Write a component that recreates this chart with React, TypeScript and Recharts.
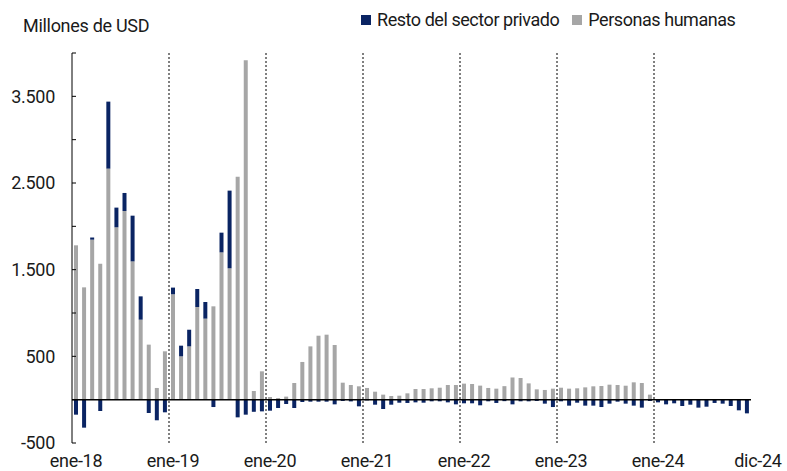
import { BarChart, Bar, XAxis, YAxis, ReferenceLine } from 'recharts';

// --- Data (Millones de USD, monthly ene-18 .. dic-24) ---
const monthNames = ['ene', 'feb', 'mar', 'abr', 'may', 'jun', 'jul', 'ago', 'sep', 'oct', 'nov', 'dic'];
const years = ['18', '19', '20', '21', '22', '23', '24'];

// Personas humanas (gray)
const personasHumanas = [
  1781, 1296, 1846, 1569, 2666, 1989, 2177, 1596, 923, 635, 135, 558,
  1216, 500, 615, 1069, 935, 1077, 1700, 1516, 2573, 3916, 100, 327,
  31, 19, 35, 192, 435, 615, 738, 750, 631, 196, 169, 154,
  135, 92, 58, 42, 46, 73, 123, 123, 131, 138, 169, 169,
  185, 181, 162, 135, 127, 156, 256, 250, 188, 119, 112, 127,
  138, 127, 131, 142, 154, 158, 173, 169, 161, 200, 192, 58,
  0, 0, 0, 0, 0, 0, 0, 0, 0, 0, 0, 0,
];

// Resto del sector privado (navy)
const restoSectorPrivado = [
  -173, -323, 25, -131, 773, 227, 208, 527, 269, -154, -238, -146,
  77, 123, 192, 208, 192, -85, 227, 896, -204, -173, -140, -135,
  -127, -96, -50, -96, -27, -23, -23, -23, -54, -15, -20, -77,
  -8, -58, -108, -58, -35, -38, -31, -35, -19, -19, -31, -54,
  -42, -42, -65, -19, -38, -17, -54, -19, -19, -15, -46, -85,
  -19, -69, -35, -69, -69, -85, -46, -23, -46, -69, -92, -15,
  -31, -54, -42, -73, -58, -92, -81, -38, -46, -73, -123, -158,
];

const xTickLabels = ['ene-18', 'ene-19', 'ene-20', 'ene-21', 'ene-22', 'ene-23', 'ene-24', 'dic-24'];
const yTicks = [-500, 0, 500, 1000, 1500, 2000, 2500, 3000, 3500, 4000];
const yLabelled = [-500, 500, 1500, 2500, 3500];
const yearStarts = ['ene-19', 'ene-20', 'ene-21', 'ene-22', 'ene-23', 'ene-24'];

const months = years.flatMap((y) => monthNames.map((m) => `${m}-${y}`));
const data = months.map((month, i) => ({
  month,
  personas: personasHumanas[i],
  resto: restoSectorPrivado[i],
}));

const NAVY = '#0a2463';
const GRAY = '#a6a6a6';
const TEXT = '#1a1a1a';
const FONT = 'Roboto, sans-serif';

const formatY = (v: number): string => {
  if (!yLabelled.includes(v)) return '';
  const sign = v < 0 ? '-' : '';
  const abs = Math.abs(v);
  return sign + (abs >= 1000 ? `${Math.floor(abs / 1000)}.${String(abs % 1000).padStart(3, '0')}` : String(abs));
};

const XTick = ({ x, y, payload }: any) => {
  if (!xTickLabels.includes(payload.value)) return null;
  // last label sits a bit to the right of its bar
  const dx = payload.value === 'dic-24' ? 11 : 0;
  return (
    <text x={x + dx} y={y} dy="0.71em" textAnchor="middle" fill={TEXT} fontSize={18} fontFamily={FONT} letterSpacing={-0.3}>
      {payload.value}
    </text>
  );
};

export default function App() {
  return (
    <div style={{ position: 'absolute', left: 0, top: 0, width: 787, height: 471, background: '#fff', fontFamily: FONT, color: TEXT }}>
      <div style={{ position: 'absolute', left: 23, top: 16, fontSize: 18, lineHeight: '20px', letterSpacing: -0.3 }}>
        Millones de USD
      </div>
      <div style={{ position: 'absolute', left: 361, top: 10, fontSize: 18, lineHeight: '20px', letterSpacing: -0.45, display: 'flex', alignItems: 'center' }}>
        <span style={{ width: 10, height: 10, background: NAVY, display: 'inline-block', marginRight: 6 }} />
        <span style={{ marginRight: 13 }}>Resto del sector privado</span>
        <span style={{ width: 10, height: 10, background: GRAY, display: 'inline-block', marginRight: 6 }} />
        <span>Personas humanas</span>
      </div>
      <BarChart
        width={787}
        height={471}
        data={data}
        stackOffset="sign"
        margin={{ top: 53, right: 36, bottom: 0, left: 0 }}
        barSize={4}
      >
        <XAxis
          dataKey="month"
          interval={0}
          axisLine={false}
          tickLine={false}
          tickSize={6}
          tickMargin={5}
          height={28}
          tick={<XTick />}
        />
        <YAxis
          width={72}
          domain={[-500, 4000]}
          ticks={yTicks}
          interval={0}
          tickFormatter={formatY}
          axisLine={{ stroke: '#000', strokeWidth: 1 }}
          tickLine={{ stroke: '#000' }}
          tickSize={-4}
          tickMargin={21}
          tick={{ fill: TEXT, fontSize: 18, fontFamily: FONT, letterSpacing: -0.3 }}
        />
        {yearStarts.map((m) => (
          <ReferenceLine key={m} x={m} position="start" stroke="#000" strokeDasharray="2 2" strokeWidth={1} />
        ))}
        <ReferenceLine x="dic-24" position="end" stroke="#000" strokeDasharray="2 2" strokeWidth={1} />
        <Bar dataKey="personas" stackId="a" fill={GRAY} isAnimationActive={false} />
        <Bar dataKey="resto" stackId="a" fill={NAVY} isAnimationActive={false} />
        <ReferenceLine y={0} stroke="#000" strokeWidth={1.5} />
      </BarChart>
    </div>
  );
}
